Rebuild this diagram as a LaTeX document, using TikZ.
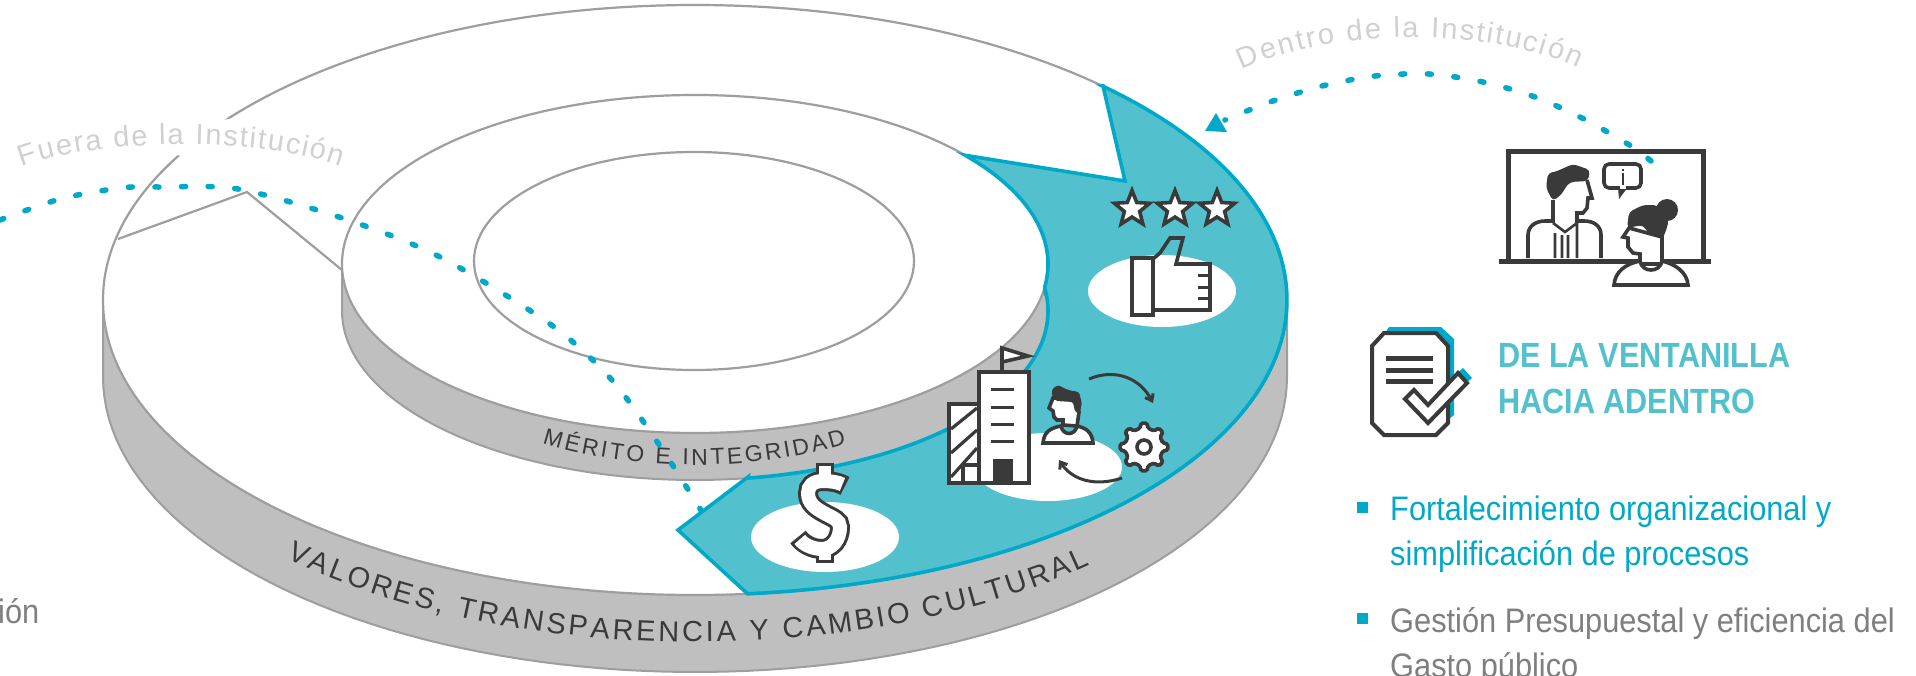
\documentclass[tikz,border=0pt]{standalone}
\usepackage{fontspec}
\usepackage{graphicx}
\setmainfont{Liberation Sans}
\newfontfamily\headf[FakeStretch=0.875]{Liberation Sans}
\newfontfamily\bodyf[FakeStretch=0.905]{Liberation Sans}
\usetikzlibrary{decorations.text,arrows.meta,shapes.geometric}
\definecolor{teal1}{HTML}{00A9C8}
\definecolor{teal2}{HTML}{53C1CD}
\definecolor{bandg}{HTML}{BFBFBF}
\definecolor{lineg}{HTML}{9E9E9E}
\definecolor{ink}{HTML}{3A3A3A}
\definecolor{lbl}{HTML}{D0D0D0}
\definecolor{gtext}{HTML}{7F7F7F}
\newcommand\earc[6]{plot[domain=#5:#6,samples=90] ({#1+#3*cos(\x)},{#2+#4*sin(\x)})}
\newcommand\learc[6]{-- plot[domain=#5:#6,samples=90] ({#1+#3*cos(\x)},{#2+#4*sin(\x)})}
\tikzset{
  band/.style={fill=bandg,draw=lineg,line width=2pt},
  disc/.style={fill=white,draw=lineg,line width=2.2pt},
  dots/.style={draw=teal1,line width=5.5pt,line cap=round,dash pattern=on 4pt off 22.6pt},
  icon/.style={draw=ink,line width=3.6pt,line join=miter},
  iconw/.style={icon,fill=white},
  spot/.style={fill=white,draw=none},
  txt/.style={inner sep=0pt,anchor=base west},
  curved/.style={decorate,decoration={text along path,text align={fit to path},text={#1}}},
}
\begin{document}
\begin{tikzpicture}[x=1pt,y=-1pt]
\clip (0,0) rectangle (1916,675);
\fill[white] (0,0) rectangle (1916,675);
% outer disc
\draw[band] (103,300) \learc{695}{377}{592}{295}{180}{0} -- (1287,300) -- cycle;
\draw[disc] (695,300) ellipse [x radius=592,y radius=295];
\draw[lineg,line width=2.2pt] (118,239) -- (247,192) -- (342,270);
\fill[white,rotate around={8:(230,137)}] (230,137) ellipse [x radius=68,y radius=18];
% mid disc
\draw[band] (342,264) \learc{695}{311}{353}{169}{180}{0} -- (1048,264) -- cycle;
\draw[disc] (695,264) ellipse [x radius=353,y radius=169];
\draw[disc] (694,261) ellipse [x radius=220,y radius=109];
% band labels
\path[curved={|\fontsize{29}{29}\selectfont\color{ink}|VALORES, TRANSPARENCIA Y CAMBIO CULTURAL}] \earc{695}{342}{590}{300}{133.8}{48};
\path[curved={|\fontsize{23}{23}\selectfont\color{ink}|MÉRITO E INTEGRIDAD}] \earc{695}{261}{340}{204}{116.7}{63.5};
% dotted paths
\draw[dots] plot[smooth] coordinates {(0,220) (60,199) (120,188) (158,187) (238,189) (345,219) (440,257) (550,324) (611,379) (660,446) (704,515)};
\draw[dots] plot[smooth] coordinates {(1651,161) (1631,146) (1584,119) (1535,97) (1483,82) (1429,74) (1375,76) (1322,86) (1270,102) (1225,120)};
\fill[teal1] (1216,113) -- (1205,131) -- (1227,132) -- cycle;
% curved captions
\path[curved={|\fontsize{29}{29}\selectfont\color{lbl}|Fuera de la Institución}] (22,167) .. controls (100,137) and (260,137) .. (341,166);
\path[curved={|\fontsize{29}{29}\selectfont\color{lbl}|Dentro de la Institución}] (1242,70) .. controls (1330,27) and (1490,27) .. (1578,68);
% cyan arrow
\draw[fill=teal2,draw=teal1,line width=3.6pt,line join=miter] (678,530) -- (748,477) \learc{695}{311}{353}{169}{81.4}{-8} \learc{695}{264}{353}{169}{8}{-40} -- (1125,181) -- (1103,86) \learc{695}{300}{592}{295}{-46.5}{84.9} -- cycle;
% white spots
\fill[spot] (1162,291) ellipse [x radius=74,y radius=36];
\fill[spot] (825,537) ellipse [x radius=74,y radius=35];
\fill[spot] (1048,467) ellipse [x radius=74,y radius=34];
% stars
\foreach \n/\sx in {a/1132,b/1175,c/1217}
  \node[star,star points=5,star point ratio=2.3,minimum size=37pt,inner sep=0pt,iconw] (star\n) at (\sx,209) {};
% thumb
\draw[icon,fill=white] (1132,258) rectangle (1153,315);
\draw[icon] (1153,259) -- (1160,253) -- (1170,238) -- (1183,238) -- (1176,264) -- (1210,264) -- (1210,310) -- (1153,310);
\draw[ink,line width=3pt] (1198,275) -- (1210,275) (1198,287) -- (1210,287) (1198,298) -- (1210,298);
% dollar
\fill[ink] (816,463) rectangle (834,482);
\fill[ink] (816,550) rectangle (834,563);
\draw[ink,line width=20pt] (845,486) .. controls (838,482) and (830,481) .. (823,481) .. controls (813,481) and (808,486) .. (808,493) .. controls (808,503) and (815,508) .. (824,513) .. controls (833,518) and (840,520) .. (840,527) .. controls (840,540) and (832,549) .. (822,549) .. controls (812,549) and (803,544) .. (798,537);
\fill[white] (819,466) rectangle (831,482);
\fill[white] (819,550) rectangle (831,560);
\draw[white,line width=14pt,shorten <=3pt,shorten >=3pt] (845,486) .. controls (838,482) and (830,481) .. (823,481) .. controls (813,481) and (808,486) .. (808,493) .. controls (808,503) and (815,508) .. (824,513) .. controls (833,518) and (840,520) .. (840,527) .. controls (840,540) and (832,549) .. (822,549) .. controls (812,549) and (803,544) .. (798,537);
% building
\draw[iconw] (1002,372) -- (1002,348) -- (1028,356) -- (1002,362);
\draw[iconw] (949,404) rectangle (979,483);
\draw[ink,line width=3.2pt] (951,429) -- (977,408) (951,453) -- (977,430) (951,477) -- (977,448);
\draw[iconw] (963,465) rectangle (979,483);
\draw[iconw] (979,372) rectangle (1029,483);
\draw[ink,line width=3pt] (991,389) -- (1014,389) (991,407) -- (1014,407) (991,424) -- (1014,424) (991,441) -- (1014,441);
\fill[ink] (993,459) rectangle (1013,483);
% person
\draw[iconw] (1063,425) -- (1063,420) -- (1057,420) -- (1054,417) -- (1053,411) -- (1049,408) -- (1053,398) -- (1078,398) -- (1079,412) -- (1077,426) -- cycle;
\fill[ink,rounded corners=2.5pt] (1052,389) -- (1058,385) -- (1068,390) -- (1079,392) -- (1082,404) -- (1079,413) -- (1075,412) -- (1073,402) -- (1056,401) -- (1052,396) -- cycle;
\draw[iconw] (1043,443) .. controls (1044,432) and (1050,428) .. (1061,426) .. controls (1063,436) and (1075,436) .. (1077,426) .. controls (1086,428) and (1092,432) .. (1093,443) -- cycle;
% cycle arrows and gear
\draw[ink,line width=3pt,-{Straight Barb[length=6pt,width=9pt]}] (1089,379) .. controls (1115,368) and (1140,378) .. (1153,403);
\draw[ink,line width=3pt,-{Straight Barb[length=6pt,width=9pt]}] (1122,478) .. controls (1095,487) and (1072,480) .. (1059,460);
\begin{scope}[shift={(1144,447)}]
\draw[iconw,rounded corners=1.5pt] (-13:19) \foreach \a in {0,45,...,315} { -- ({\a-13}:19) -- ({\a-7}:24) -- ({\a+7}:24) -- ({\a+13}:19) } -- cycle;
\draw[icon,fill=white] (0,0) circle [radius=7];
\end{scope}
% monitor
\draw[ink,line width=5pt] (1508,261) -- (1508,151) -- (1703,151) -- (1703,261);
\draw[ink,line width=5pt] (1499,261) -- (1711,261);
\draw[icon] (1553,200) -- (1553,223);
\draw[icon] (1587,180) -- (1592,198) -- (1588,198) -- (1587,208) -- (1583,213) -- (1577,213) -- (1577,223);
\fill[ink,rounded corners=4pt] (1555,172) -- (1573,164) -- (1590,170) -- (1588,181) -- (1570,182) -- (1565,188) -- (1562,194) -- (1553,201) -- (1546,188) -- (1548,173) -- cycle;
\draw[icon] (1528,258) -- (1528,235) .. controls (1528,226) and (1536,221) .. (1545,221) -- (1553,221) (1577,221) -- (1584,221) .. controls (1594,221) and (1601,226) .. (1601,235) -- (1601,258);
\draw[ink,line width=2.6pt] (1553,223) -- (1565,232) -- (1577,223) (1555,233) -- (1555,258) (1562,235) -- (1562,258) (1568,235) -- (1568,258) (1577,223) -- (1577,258);
\draw[icon,rounded corners=5pt] (1604,164) rectangle (1641,188);
\fill[ink] (1618,187) -- (1619,199) -- (1628,187) -- cycle;
\fill[white] (1620,186) rectangle (1626,189);
\draw[ink,line width=2.4pt] (1623,169) -- (1623,171) (1623,173) -- (1623,185);
% woman
\draw[iconw] (1629,228) -- (1623,237) -- (1628,238) -- (1628,247) -- (1633,253) -- (1640,254) -- (1640,264) -- (1662,264) -- (1662,237) -- cycle;
\draw[iconw] (1614,285) .. controls (1615,272) and (1625,264) .. (1640,261) .. controls (1642,273) and (1660,273) .. (1662,261) .. controls (1675,264) and (1687,272) .. (1688,285) -- cycle;
\fill[ink] (1667,210) circle [radius=11];
\fill[ink,rounded corners=4pt] (1627,228) -- (1629,212) -- (1643,205) -- (1657,205) -- (1669,220) -- (1665,234) -- (1662,238) -- (1648,233) -- (1643,225) -- (1632,227) -- cycle;
% document icon
\fill[teal1] (1389,327) -- (1441,327) -- (1454,339) -- (1454,415) -- (1448,420) -- (1380,340) -- cycle;
\fill[teal1] (1455,375) -- (1463,368) -- (1472,378) -- (1465,384) -- cycle;
\draw[ink,line width=4pt,fill=white] (1384,333) -- (1436,333) -- (1448,346) -- (1448,423) -- (1436,435) -- (1384,435) -- (1372,423) -- (1372,346) -- cycle;
\draw[ink,line width=5pt] (1386,358) -- (1433,358) (1386,370) -- (1433,370) (1386,381) -- (1433,381);
\draw[ink,line width=4pt,fill=white] (1405,399) -- (1414,390) -- (1428,405) -- (1458,373) -- (1467,383) -- (1428,423) -- cycle;
% heading
\node[txt,text=teal2] (h1) at (1498,367) {\fontsize{35}{35}\selectfont\headf\bfseries DE LA VENTANILLA};
\node[txt,text=teal2] (h2) at (1498,413) {\fontsize{35}{35}\selectfont\headf\bfseries HACIA ADENTRO};
% bullets
\fill[teal1] (1356.5,502) rectangle (1367.5,513);
\fill[teal1] (1356.5,613) rectangle (1367.5,624);
\node[txt,text=teal1] (b1) at (1390,520) {\fontsize{34}{34}\selectfont\bodyf Fortalecimiento organizacional y};
\node[txt,text=teal1] (b2) at (1390,565) {\fontsize{34}{34}\selectfont\bodyf simplificación de procesos};
\node[txt,text=gtext] (b3) at (1390,632) {\fontsize{34}{34}\selectfont\bodyf Gestión Presupuestal y eficiencia del};
\node[txt,text=gtext] (b4) at (1390,677) {\fontsize{34}{34}\selectfont\bodyf Gasto público};
\node[txt,text=gtext] (stub) at (-2,623) {\fontsize{34}{34}\selectfont\bodyf ión};
\end{tikzpicture}
\end{document}
